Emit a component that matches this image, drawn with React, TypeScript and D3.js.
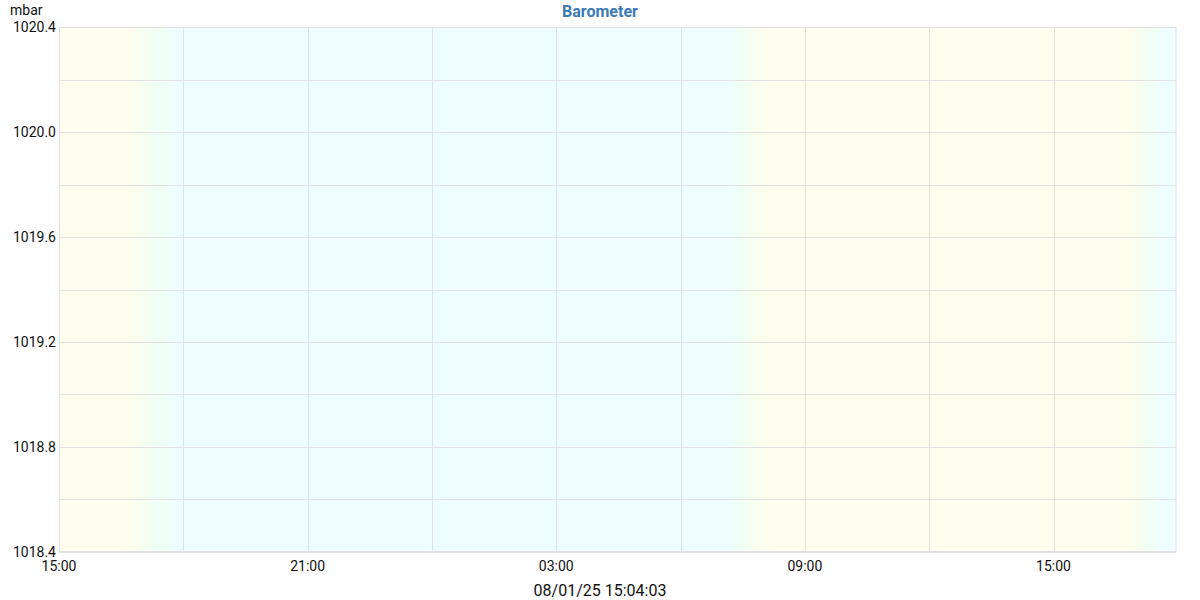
import React, { useEffect, useRef } from "react";
import * as d3 from "d3";

const title = "Barometer";
const unit = "mbar";
const footer = "08/01/25 15:04:03";
const timeStart = "2025-01-07T15:00:00";
const timeEnd = "2025-01-08T17:58:00";
const yMin = 1018.4;
const yMax = 1020.4;
const yTickValues = [1018.4, 1018.8, 1019.2, 1019.6, 1020.0, 1020.4];
const xTickTimes = [
  "2025-01-07T15:00:00",
  "2025-01-07T21:00:00",
  "2025-01-08T03:00:00",
  "2025-01-08T09:00:00",
  "2025-01-08T15:00:00",
];
// sky colour stops: time, colour
const skyTimes = [
  "2025-01-07T15:00:00",
  "2025-01-07T16:38:00",
  "2025-01-07T17:12:00",
  "2025-01-07T17:52:00",
  "2025-01-08T07:09:00",
  "2025-01-08T07:34:00",
  "2025-01-08T08:10:00",
  "2025-01-08T16:48:00",
  "2025-01-08T17:13:00",
  "2025-01-08T17:42:00",
  "2025-01-08T17:58:00",
];
const skyColors = [
  "#fffdee",
  "#fffdee",
  "#f2fff2",
  "#eefdfd",
  "#eefdfd",
  "#f2fff2",
  "#fffdee",
  "#fffdee",
  "#f2fff2",
  "#eefdfd",
  "#eefdfd",
];

export default function App() {
  const ref = useRef<SVGSVGElement>(null);
  useEffect(() => {
    const m = { left: 59, right: 1176.5, top: 27, bottom: 552 };
    const svg = d3.select(ref.current);
    svg.selectAll("*").remove();
    const x = d3.scaleTime().domain([new Date(timeStart), new Date(timeEnd)]).range([m.left, m.right]);
    const y = d3.scaleLinear().domain([yMin, yMax]).range([m.bottom, m.top]);
    const font = "Roboto, sans-serif";

    const defs = svg.append("defs");
    const grad = defs.append("linearGradient").attr("id", "sky").attr("gradientUnits", "userSpaceOnUse")
      .attr("x1", m.left).attr("x2", m.right).attr("y1", 0).attr("y2", 0);
    skyTimes.forEach((t, i) => {
      const off = (x(new Date(t)) - m.left) / (m.right - m.left);
      grad.append("stop").attr("offset", Math.max(0, Math.min(1, off))).attr("stop-color", skyColors[i]);
    });
    svg.append("rect").attr("x", m.left).attr("y", m.top).attr("width", m.right - m.left).attr("height", m.bottom - m.top).attr("fill", "url(#sky)");

    // grid
    const yGrid = d3.range(0, 11).map(i => yMin + i * 0.2);
    svg.append("g").selectAll("line").data(yGrid).join("line")
      .attr("x1", m.left).attr("x2", m.right)
      .attr("y1", d => Math.round(y(d)) + 0.5).attr("y2", d => Math.round(y(d)) + 0.5)
      .attr("stroke", "#e2e2e2").attr("stroke-width", 1);
    const xGrid = x.ticks(d3.timeHour.every(3));
    svg.append("g").selectAll("line").data(xGrid).join("line")
      .attr("y1", m.top).attr("y2", m.bottom)
      .attr("x1", d => Math.round(x(d)) + 0.5).attr("x2", d => Math.round(x(d)) + 0.5)
      .attr("stroke", "#e2e2e2").attr("stroke-width", 1);
    svg.append("rect").attr("x", m.left + 0.5).attr("y", m.top + 0.5).attr("width", m.right - m.left - 1).attr("height", m.bottom - m.top - 1)
      .attr("fill", "none").attr("stroke", "#e0e0e0");

    // y labels
    svg.append("g").selectAll("text").data(yTickValues).join("text")
      .attr("x", 56).attr("y", d => y(d)).attr("dy", "0.35em").attr("text-anchor", "end")
      .attr("font-family", font).attr("font-size", 14).attr("fill", "#111").text(d => d.toFixed(1));
    // x labels
    const fmt = d3.timeFormat("%H:%M");
    svg.append("g").selectAll("text").data(xTickTimes.map(t => new Date(t))).join("text")
      .attr("x", d => x(d)).attr("y", 571).attr("text-anchor", "middle")
      .attr("font-family", font).attr("font-size", 14).attr("fill", "#111").text(d => fmt(d));

    svg.append("text").attr("x", 10).attr("y", 15).attr("font-family", font).attr("font-size", 14).attr("fill", "#111").text(unit);
    svg.append("text").attr("x", 600).attr("y", 17).attr("text-anchor", "middle").attr("font-family", font)
      .attr("font-size", 16).attr("font-weight", "bold").attr("fill", "#3a7ab5").text(title);
    svg.append("text").attr("x", 600).attr("y", 596).attr("text-anchor", "middle").attr("font-family", font)
      .attr("font-size", 16).attr("fill", "#111").text(footer);
  }, []);
  return (
    <svg ref={ref} width={1200} height={600} style={{ position: "absolute", left: 0, top: 0, background: "#fff" }} />
  );
}
